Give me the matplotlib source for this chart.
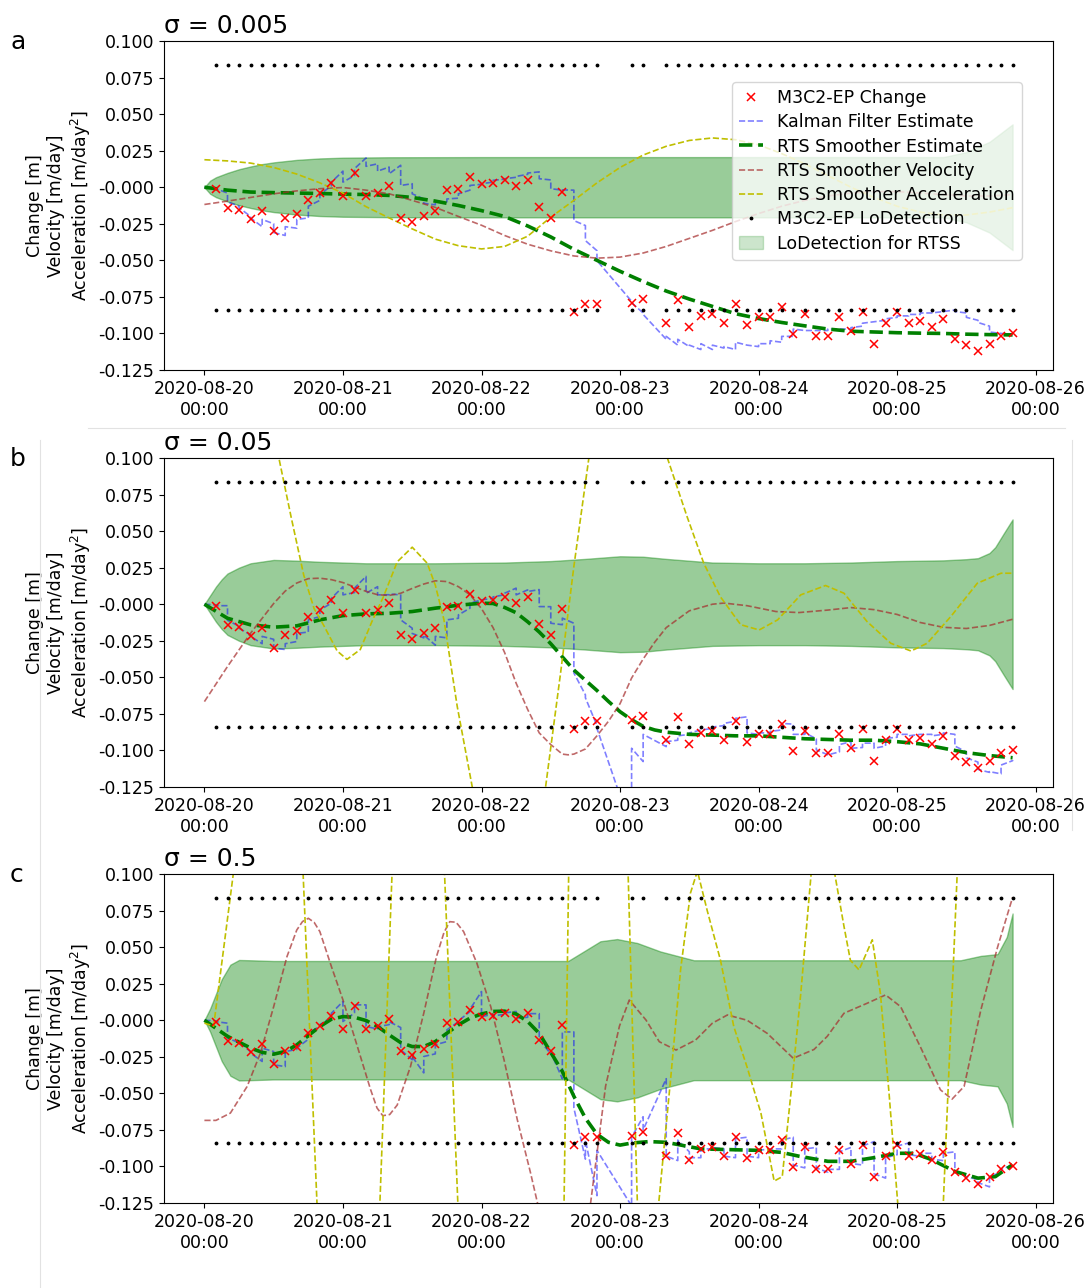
import numpy as np
import matplotlib
matplotlib.use("Agg")
import matplotlib.pyplot as plt
import matplotlib.dates as mdates
from matplotlib.lines import Line2D
from matplotlib.patches import Patch

# observation epochs (hours after 2020-08-20 00:00) and M3C2-EP change [m]
obs_hours = [2, 4, 6, 8, 10, 12, 14, 16, 18, 20,
             22, 24, 26, 28, 30, 32, 34, 36, 38, 40,
             42, 44, 46, 48, 50, 52, 54, 56, 58, 60,
             62, 64, 66, 68, 74, 76, 80, 82, 84, 86,
             88, 90, 92, 94, 96, 98, 100, 102, 104, 106,
             108, 110, 112, 114, 116, 118, 120, 122, 124, 126,
             128, 130, 132, 134, 136, 138, 140]
obs_change = [-0.001, -0.014, -0.0155, -0.022, -0.0165, -0.030, -0.021, -0.018, -0.009, -0.004,
              0.003, -0.006, 0.010, -0.006, -0.004, 0.001, -0.021, -0.024, -0.020, -0.016,
              -0.002, -0.001, 0.007, 0.002, 0.003, 0.005, 0.001, 0.005, -0.0135, -0.021,
              -0.003, -0.085, -0.0796, -0.080, -0.079, -0.0766, -0.093, -0.077, -0.0956, -0.088,
              -0.087, -0.093, -0.080, -0.094, -0.089, -0.0885, -0.082, -0.1006, -0.0867, -0.102,
              -0.102, -0.0885, -0.0986, -0.0853, -0.107, -0.093, -0.0853, -0.093, -0.0913, -0.0954,
              -0.0903, -0.104, -0.1077, -0.112, -0.1075, -0.102, -0.100]
lod_value = 0.0838

sigmas = ["0.005", "0.05", "0.5"]
panel_letters = ["a", "b", "c"]

# ---- panel a (sigma = 0.005) ----
a_kf_prior = [-0.0005, -0.004, -0.013, -0.020, -0.027, -0.025, -0.033, -0.028, -0.021, -0.009,
              0.001, 0.011, 0.008, 0.020, 0.016, 0.0138, 0.015, 0.0024, -0.008, -0.012,
              -0.010, -0.0075, -0.002, 0.002, 0.0035, 0.0055, 0.0068, 0.0088, 0.0105, 0.005,
              -0.002, -0.002, -0.0262, -0.0434, -0.078, -0.086, -0.104, -0.108, -0.109, -0.111,
              -0.111, -0.110, -0.111, -0.108, -0.109, -0.107, -0.106, -0.102, -0.098, -0.098,
              -0.098, -0.097, -0.097, -0.095, -0.092, -0.091, -0.089, -0.088, -0.087, -0.086,
              -0.085, -0.084, -0.086, -0.091, -0.095, -0.100, -0.1005]
a_kf_post = [-0.001, -0.010, -0.014, -0.021, -0.022, -0.031, -0.027, -0.022, -0.013, -0.005,
             0.0035, 0.0035, 0.0127, 0.0143, 0.011, 0.0092, 0.0012, -0.0045, -0.011, -0.010,
             -0.008, -0.0045, 0.0012, 0.0024, 0.0047, 0.0058, 0.0074, 0.0097, 0.0058, -0.001,
             -0.0018, -0.0228, -0.0365, -0.0502, -0.079, -0.087, -0.102, -0.104, -0.108, -0.107,
             -0.108, -0.109, -0.106, -0.108, -0.107, -0.105, -0.102, -0.097, -0.098, -0.098,
             -0.097, -0.097, -0.096, -0.093, -0.092, -0.090, -0.088, -0.087, -0.086, -0.086,
             -0.085, -0.085, -0.089, -0.0925, -0.099, -0.100, -0.1005]
a_grid_h = list(range(0, 141, 4))
a_rts = [0, -0.002, -0.0033, -0.0037, -0.004, -0.0043, -0.0047, -0.005, -0.0056, -0.007,
         -0.0095, -0.0125, -0.016, -0.020, -0.0265, -0.034, -0.0425, -0.050, -0.0575, -0.0645,
         -0.071, -0.0765, -0.0815, -0.0865, -0.0898, -0.0925, -0.0948, -0.097, -0.0985, -0.099,
         -0.0995, -0.0998, -0.100, -0.1005, -0.1008, -0.101]
a_vel = [-0.0118, -0.0095, -0.007, -0.0045, -0.0025, -0.001, -0.0002, -0.002, -0.0045, -0.009,
         -0.0138, -0.020, -0.026, -0.033, -0.039, -0.0435, -0.047, -0.0485, -0.0478, -0.045,
         -0.0405, -0.035, -0.0295, -0.0235, -0.018, -0.013, -0.009, -0.006, -0.004, -0.003,
         -0.003, -0.004, -0.005, -0.006, -0.006, -0.005]
a_acc = [0.0188, 0.018, 0.0165, 0.0135, 0.009, 0.003, -0.004, -0.0133, -0.021, -0.0285,
         -0.0355, -0.040, -0.0422, -0.0405, -0.0335, -0.0205, -0.009, 0.003, 0.0135, 0.022,
         0.028, 0.032, 0.0337, 0.0325, 0.029, 0.023, 0.016, 0.008, 0.0, -0.007,
         -0.013, -0.017, -0.019, -0.019, -0.017, -0.014]
a_band_h = [0, 1, 2, 4, 6, 8, 10, 12, 16, 20, 24, 32, 48, 128, 132, 136, 140]
a_band = [0, 0.0045, 0.0068, 0.0098, 0.0123, 0.0142, 0.0158, 0.017, 0.0187, 0.0197,
          0.0202, 0.0205, 0.0206, 0.0206, 0.024, 0.031, 0.043]

# ---- panel b (sigma = 0.05) ----
b_kf_prior = [-0.0005, -0.001, -0.015, -0.021, -0.027, -0.024, -0.031, -0.0255, -0.019, -0.0084,
              0.0007, 0.012, 0.008, 0.019, 0.012, 0.0065, 0.0064, -0.0164, -0.023, -0.028,
              -0.023, -0.0096, -0.0027, 0.003, 0.004, 0.0065, 0.011, 0.0098, 0.010, -0.0017,
              -0.014, -0.013, -0.062, -0.083, -0.154, -0.1076, -0.0974, -0.093, -0.089, -0.086,
              -0.085, -0.083, -0.080, -0.077, -0.089, -0.088, -0.086, -0.082, -0.089, -0.092,
              -0.103, -0.101, -0.094, -0.098, -0.095, -0.097, -0.091, -0.089, -0.089, -0.089,
              -0.089, -0.089, -0.101, -0.108, -0.115, -0.116, -0.107]
b_kf_post = [-0.001, -0.011, -0.0164, -0.022, -0.022, -0.030, -0.027, -0.020, -0.0107, -0.0039,
             0.004, 0.0064, 0.011, 0.0075, 0.0064, 0.007, -0.0107, -0.020, -0.021, -0.022,
             -0.0107, -0.0073, 0.0007, 0.003, 0.005, 0.0075, 0.0064, 0.0087, -0.0016, -0.013,
             -0.0095, -0.047, -0.064, -0.085, -0.0985, -0.089, -0.094, -0.090, -0.088, -0.086,
             -0.084, -0.0815, -0.078, -0.088, -0.088, -0.087, -0.0815, -0.089, -0.088, -0.0996,
             -0.103, -0.096, -0.0985, -0.095, -0.0985, -0.0917, -0.089, -0.090, -0.089, -0.090,
             -0.088, -0.097, -0.105, -0.113, -0.1145, -0.110, -0.1065]
b_rts_h = [0, 4, 8, 12, 16, 20, 24, 28, 32, 36, 40, 44, 48, 50, 52, 54, 56, 58, 60, 62,
           64, 66, 68, 70, 72, 74, 76, 78, 80, 84, 88, 92, 96, 100, 104, 108, 112, 116, 120, 124,
           128, 132, 136, 140]
b_rts = [0, -0.0096, -0.0141, -0.0157, -0.0148, -0.0107, -0.0078, -0.0066, -0.0062, -0.005,
         -0.0027, -0.0007, 0.0007, 0.0005, -0.0022, -0.0058, -0.012, -0.019, -0.027, -0.036,
         -0.045, -0.052, -0.059, -0.0665, -0.0735, -0.079, -0.0835, -0.086, -0.0875, -0.089,
         -0.0895, -0.090, -0.090, -0.091, -0.092, -0.0925, -0.093, -0.093, -0.094, -0.0955,
         -0.0985, -0.1015, -0.1035, -0.105]
b_vel_h = [0, 4, 8, 12, 14, 16, 18, 20, 22, 24, 26, 28, 30, 32, 34, 36, 38, 40, 42, 44,
           46, 48, 50, 52, 54, 56, 58, 60, 62, 63, 64, 66, 68, 70, 72, 74, 76, 78, 80, 84,
           88, 90, 94, 99, 103, 108, 112, 116, 120, 124, 128, 132, 136, 140]
b_vel = [-0.0666, -0.0426, -0.0198, 0.0005, 0.009, 0.0145, 0.0175, 0.0178, 0.0168, 0.0148,
         0.0118, 0.0088, 0.0065, 0.006, 0.0075, 0.0108, 0.0138, 0.016, 0.0155, 0.012,
         0.0065, -0.003, -0.016, -0.033, -0.054, -0.072, -0.088, -0.096, -0.1025, -0.103,
         -0.1025, -0.099, -0.090, -0.080, -0.068, -0.0505, -0.0375, -0.026, -0.016, -0.0045,
         0.0, 0.0008, -0.001, -0.005, -0.0057, -0.004, -0.0023, -0.0037, -0.007, -0.0125,
         -0.0158, -0.0166, -0.0145, -0.0103]
b_acc_h = [0, 4, 8, 12.9, 15, 17.2, 19, 20.7, 23, 24.7, 27, 29, 31, 33.4, 36, 38.6, 40, 41.5,
           43.8, 46.4, 50, 53, 56, 59.1, 61.7, 64, 66.6, 70, 73, 77, 80.2, 83.6, 86.5, 89.4,
           92.9, 96.1, 99.3, 103.3, 107.6, 110.8, 114.8, 118.9, 122.4, 125.2, 129.3, 133.9,
           138, 140]
b_acc = [0.31, 0.255, 0.19, 0.1, 0.06, 0.020, -0.003, -0.0147, -0.032, -0.0377,
         -0.031, -0.012, 0.005, 0.029, 0.039, 0.028, 0.013, -0.0107, -0.07, -0.125,
         -0.19, -0.215, -0.2, -0.125, -0.047, 0.0258, 0.1, 0.18, 0.2, 0.16,
         0.1, 0.060, 0.028, 0.005, -0.014, -0.0176, -0.0107, 0.0064, 0.0128, 0.0075,
         -0.0119, -0.0267, -0.032, -0.0267, -0.0084, 0.0144, 0.0212, 0.0212]
b_band_h = [0, 1, 2, 3, 4, 6, 8, 12, 16, 20, 28, 40, 52, 60, 66, 72, 76, 80, 88, 96,
            104, 112, 120, 128, 132, 134, 136, 137, 138.5, 140]
b_band = [0, 0.006, 0.012, 0.017, 0.021, 0.025, 0.028, 0.0303, 0.0298, 0.029,
          0.028, 0.028, 0.0285, 0.0295, 0.031, 0.0328, 0.0325, 0.031, 0.0285, 0.028,
          0.028, 0.0285, 0.0295, 0.030, 0.0308, 0.0315, 0.035, 0.039, 0.0486, 0.058]

# ---- panel c (sigma = 0.5) ----
c_kf_prior = [-0.0005, -0.002, -0.0153, -0.0215, -0.0282, -0.0214, -0.0317, -0.020, -0.013, -0.004,
              0.002, 0.0128, 0.005, 0.0105, -0.006, -0.003, -0.005, -0.027, -0.036, -0.023,
              -0.0146, -0.001, 0.006, 0.0196, 0.004, 0.004, 0.006, 0.002, 0.0045, -0.023,
              -0.040, -0.008, -0.095, -0.120, -0.127, -0.066, -0.040, -0.096, -0.090, -0.094,
              -0.088, -0.088, -0.094, -0.080, -0.094, -0.088, -0.088, -0.080, -0.101, -0.087,
              -0.104, -0.102, -0.087, -0.099, -0.083, -0.108, -0.092, -0.084, -0.093, -0.091,
              -0.096, -0.090, -0.107, -0.109, -0.114, -0.104, -0.099]
c_kf_post = [-0.001, -0.0123, -0.015, -0.0225, -0.0191, -0.0305, -0.0214, -0.0191, -0.0089, -0.003,
             0.0048, -0.0009, 0.0105, -0.0043, -0.0045, -0.001, -0.0203, -0.025, -0.0248, -0.0168,
             -0.0066, -0.0005, 0.0075, 0.0025, 0.003, 0.005, 0.0015, 0.0045, -0.0134, -0.022,
             -0.008, -0.060, -0.082, -0.089, -0.080, -0.075, -0.093, -0.082, -0.094, -0.088,
             -0.087, -0.093, -0.081, -0.093, -0.089, -0.088, -0.082, -0.099, -0.088, -0.101,
             -0.102, -0.090, -0.098, -0.086, -0.105, -0.094, -0.086, -0.092, -0.091, -0.095,
             -0.091, -0.103, -0.107, -0.111, -0.107, -0.102, -0.100]
c_rts_h = [0, 4, 8, 10, 12, 14, 16, 18, 20, 22, 24, 26, 28, 30, 32, 34, 36, 38, 40, 42,
           44, 46, 48, 50, 52, 54, 56, 58, 60, 62, 64, 66, 68, 70, 72, 74, 77, 80, 82, 86,
           92, 96, 100, 103, 108, 112, 116, 120, 123, 126, 130, 134, 137, 140]
c_rts = [0, -0.011, -0.019, -0.022, -0.0232, -0.0214, -0.0169, -0.0105, -0.0043, 0.0007,
         0.0025, 0.002, -0.0002, -0.0043, -0.010, -0.0153, -0.018, -0.018, -0.0146, -0.0089,
         -0.0032, 0.0014, 0.0043, 0.006, 0.0062, 0.0043, -0.0009, -0.009, -0.022, -0.035,
         -0.052, -0.067, -0.078, -0.0835, -0.0854, -0.084, -0.083, -0.0835, -0.085, -0.088,
         -0.0886, -0.089, -0.0904, -0.093, -0.0965, -0.0965, -0.094, -0.091, -0.091, -0.0954,
         -0.1034, -0.108, -0.107, -0.0988]
c_vel_h = [0, 2, 4.5, 7.4, 9.7, 12, 14.3, 16, 17, 18, 19, 20, 22, 24, 26.5, 28.8, 29.9, 30.9,
           32.1, 33.4, 35.7, 38, 40.2, 41.5, 42.5, 43.6, 44.9, 47.2, 49.6, 51.9, 54.2, 56.5,
           57.7, 60, 62.5, 65, 66.9, 69.5, 71.9, 73.6, 76.5, 78.8, 81.7, 85.1, 88, 90.6, 94,
           97.5, 102, 105.6, 107.9, 110.8, 114.8, 118, 120.6, 124, 127.5, 129.5, 131.6, 134.5,
           137.4, 140]
c_vel = [-0.0685, -0.0685, -0.0635, -0.0453, -0.0225, 0.0093, 0.0435, 0.0617, 0.0675, 0.0697,
         0.067, 0.0606, 0.0367, 0.0139, -0.018, -0.0476, -0.060, -0.0653, -0.0645, -0.058,
         -0.0316, 0.0048, 0.0435, 0.060, 0.0674, 0.067, 0.0606, 0.039, 0.0093, -0.027,
         -0.068, -0.1045, -0.125, -0.17, -0.19, -0.16, -0.125, -0.045, -0.004, 0.0138,
         0.0001, -0.0147, -0.0204, -0.0135, -0.002, 0.0036, 0.0, -0.009, -0.026, -0.020,
         -0.011, 0.0048, 0.0116, 0.0173, 0.0093, -0.018, -0.0476, -0.054, -0.0453, 0.007,
         0.050, 0.084]
c_acc_h = [0, 1.6, 5, 8, 11, 14, 17.1, 19.5, 22, 25, 28, 30.4, 32.5, 35, 37.5, 40, 41.6, 43.9,
           47, 52, 57, 60, 62.3, 63.1, 66, 69, 71.5, 73.4, 75.0, 77, 78.7, 80.8, 82.5, 84.2,
           85.4, 87.1, 89.4, 91.7, 94, 96.4, 98.7, 100.1, 101.6, 103.3, 105.1, 107, 109.2,
           110.8, 111.9, 113.4, 115.7, 117.1, 118.6, 120.1, 124, 128, 130.4, 135, 140]
c_acc = [-0.002, -0.004, 0.1, 0.3, 0.4, 0.3, 0.1, -0.125, -0.32, -0.42,
         -0.33, -0.125, 0.1, 0.32, 0.4, 0.28, 0.1, -0.125, -0.38, -0.52,
         -0.45, -0.3, -0.125, 0.1, 0.5, 0.6, 0.35, 0.1, -0.125, -0.2,
         -0.125, -0.0385, 0.035, 0.087, 0.102, 0.075, 0.041, -0.0043, -0.032, -0.0635,
         -0.110, -0.107, -0.050, 0.018, 0.1, 0.16, 0.1, 0.064, 0.041, 0.0344,
         0.055, 0.0184, -0.05, -0.125, -0.3, -0.125, 0.1, 0.5, 0.7]
c_band_h = [0, 1, 2, 3, 4.5, 6, 8, 12, 63, 65.7, 68.6, 71.5, 75, 79, 84.8, 131, 134.5,
            137.4, 139, 140]
c_band = [0, 0.008, 0.018, 0.028, 0.038, 0.0412, 0.041, 0.0405, 0.0405, 0.047,
          0.054, 0.0555, 0.0528, 0.047, 0.041, 0.041, 0.044, 0.0452, 0.057, 0.073]

panels = [
    dict(kf_prior=a_kf_prior, kf_post=a_kf_post, rts_h=a_grid_h, rts=a_rts,
         vel_h=a_grid_h, vel=a_vel, acc_h=a_grid_h, acc=a_acc, band_h=a_band_h, band=a_band),
    dict(kf_prior=b_kf_prior, kf_post=b_kf_post, rts_h=b_rts_h, rts=b_rts,
         vel_h=b_vel_h, vel=b_vel, acc_h=b_acc_h, acc=b_acc, band_h=b_band_h, band=b_band),
    dict(kf_prior=c_kf_prior, kf_post=c_kf_post, rts_h=c_rts_h, rts=c_rts,
         vel_h=c_vel_h, vel=c_vel, acc_h=c_acc_h, acc=c_acc, band_h=c_band_h, band=c_band),
]

t0 = mdates.date2num(np.datetime64("2020-08-20T00:00"))


def to_date(hours):
    return t0 + np.asarray(hours, dtype=float) / 24.0


def kalman_path(prior, post):
    # filter jumps at every observation: prediction value, then updated value
    xs, ys = [0.0], [0.0]
    for h, p, q in zip(obs_hours, prior, post):
        xs += [h, h]
        ys += [p, q]
    return to_date(xs), np.array(ys)


plt.rcParams["font.family"] = ["DejaVu Sans"]
fs = 12.5

fig = plt.figure(figsize=(10.88, 12.88), dpi=100)
W, H = 1088.0, 1288.0
ax_tops = [41, 458, 874]
ax_left, ax_right, ax_h = 164, 1053, 329

x_obs = to_date(obs_hours)
for i, d in enumerate(panels):
    top = ax_tops[i]
    ax = fig.add_axes([ax_left / W, 1 - (top + ax_h) / H, (ax_right - ax_left) / W, ax_h / H])

    bh = to_date(d["band_h"])
    band = np.array(d["band"])
    ax.fill_between(bh, -band, band, color="green", alpha=0.4, zorder=1)
    h_obs, = ax.plot(x_obs, obs_change, "x", color="red", ms=6, mew=1.1,
                     label="M3C2-EP Change", zorder=3)
    kx, ky = kalman_path(d["kf_prior"], d["kf_post"])
    h_kf, = ax.plot(kx, ky, "--", color="blue", alpha=0.5, lw=1.2,
                    label="Kalman Filter Estimate", zorder=2)
    h_rts, = ax.plot(to_date(d["rts_h"]), d["rts"], "--", color="green", lw=2.6,
                     label="RTS Smoother Estimate", zorder=2)
    h_vel, = ax.plot(to_date(d["vel_h"]), d["vel"], "--", color="brown", alpha=0.7, lw=1.2,
                     label="RTS Smoother Velocity", zorder=2)
    h_acc, = ax.plot(to_date(d["acc_h"]), d["acc"], "--", color="y", lw=1.2,
                     label="RTS Smoother Acceleration", zorder=2)
    h_lod, = ax.plot(x_obs, [lod_value] * len(obs_hours), ".", color="k", ms=3.5,
                     label="M3C2-EP LoDetection", zorder=3)
    ax.plot(x_obs, [-lod_value] * len(obs_hours), ".", color="k", ms=3.5, zorder=3)

    ax.set_xlim(to_date(-7), to_date(147))
    ax.set_ylim(-0.125, 0.1)
    ax.set_yticks(np.arange(-0.125, 0.1001, 0.025))
    ax.yaxis.set_major_formatter(plt.FormatStrFormatter("%.3f"))
    ax.xaxis.set_major_locator(mdates.DayLocator())
    ax.xaxis.set_major_formatter(mdates.DateFormatter("%Y-%m-%d\n%H:%M"))
    ax.tick_params(labelsize=fs)
    ax.set_ylabel("Change [m]\nVelocity [m/day]\nAcceleration [m/day$^2$]", fontsize=fs)
    ax.set_title(f"\u03c3 = {sigmas[i]}", loc="left", fontsize=18)
    fig.text(10 / W, 1 - (top + 1) / H, panel_letters[i], fontsize=18, va="center")

    if i == 0:
        h_band = Patch(facecolor="green", edgecolor="green", alpha=0.2,
                       label="LoDetection for RTSS")
        ax.legend(handles=[h_obs, h_kf, h_rts, h_vel, h_acc, h_lod, h_band],
                  loc="upper right", bbox_to_anchor=(0.965, 0.875), borderaxespad=0,
                  fontsize=fs, handlelength=1.4, labelspacing=0.36)

# faint frame lines left over from the composed figure
for (x0, y0, x1, y1) in [(88, 428, 1065, 428), (40, 440, 40, 1288), (1072, 440, 1072, 830)]:
    fig.add_artist(Line2D([x0 / W, x1 / W], [1 - y0 / H, 1 - y1 / H],
                          transform=fig.transFigure, color="#e2e2e2", lw=0.8))

fig.savefig("out.png", dpi=100)
